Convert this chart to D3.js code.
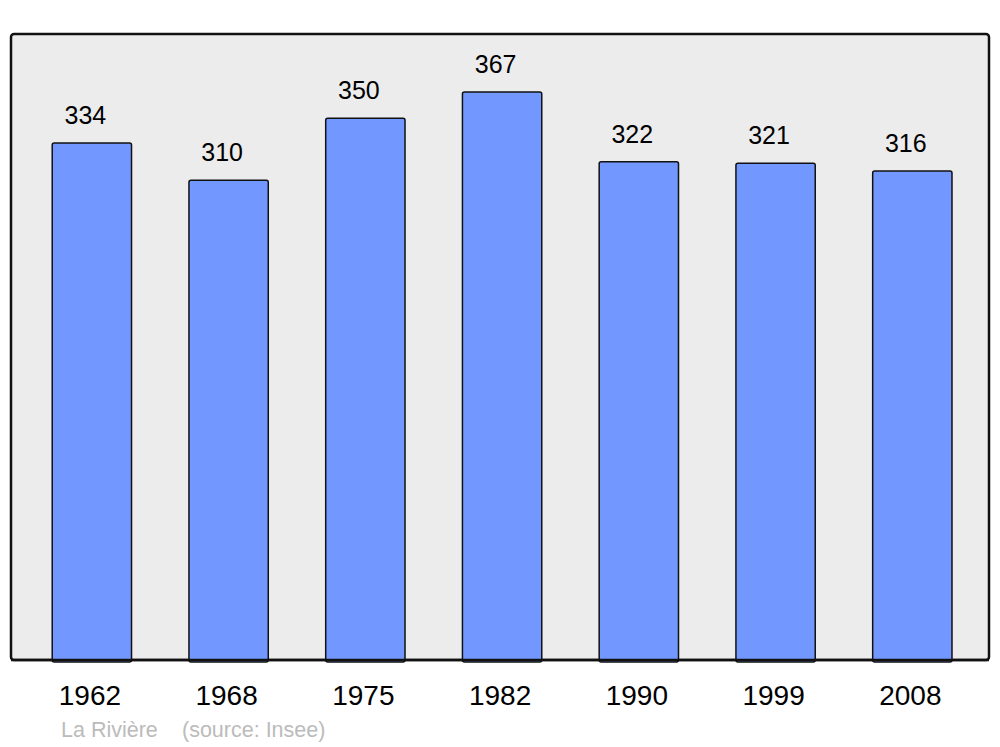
<!DOCTYPE html>
<html><head><meta charset="utf-8">
<script src="https://cdn.jsdelivr.net/npm/d3@7"></script>
<style>body{margin:0;background:#fff}</style>
</head><body>
<svg id="c" width="1000" height="747"></svg>
<script>
const years = ["1962","1968","1975","1982","1990","1999","2008"];
const population = [334,310,350,367,322,321,316];
const sourceParts = ["La Rivière", "(source: Insee)"];

const svg = d3.select("#c");
const font = "'Liberation Sans', Arial, sans-serif";
const panel = {x0: 11, x1: 989, y0: 34, y1: 660};

svg.append("rect")
  .attr("x", panel.x0).attr("y", panel.y0)
  .attr("width", panel.x1 - panel.x0).attr("height", panel.y1 - panel.y0)
  .attr("rx", 3).attr("fill", "#ececec").attr("stroke", "#111").attr("stroke-width", 2.5);

const x = d3.scaleBand().domain(years).range([23.5, 980.7]).paddingInner(0.42).paddingOuter(0.21);
const y = d3.scaleLinear().domain([0, 367]).range([panel.y1, 92]);

const data = years.map((yr, i) => ({yr, v: population[i]}));

svg.selectAll("rect.bar").data(data).join("rect")
  .attr("class", "bar")
  .attr("x", d => x(d.yr)).attr("y", d => y(d.v))
  .attr("width", x.bandwidth()).attr("height", d => y(0) - y(d.v) + 2)
  .attr("rx", 2)
  .attr("fill", "#7298ff").attr("stroke", "#111").attr("stroke-width", 1.5);

svg.append("line").attr("x1", panel.x0).attr("x2", panel.x1)
  .attr("y1", panel.y1).attr("y2", panel.y1).attr("stroke", "#111").attr("stroke-width", 2.5);

svg.selectAll("text.val").data(data).join("text")
  .attr("class", "val")
  .attr("x", d => x(d.yr) + x.bandwidth()/2 - 6.5)
  .attr("y", d => y(d.v) - 19)
  .attr("text-anchor", "middle")
  .attr("font-family", font).attr("font-size", 25).attr("fill", "#000")
  .text(d => d.v);

const xAxis = d3.axisBottom(x).tickSize(0).tickPadding(0);
const ax = svg.append("g").attr("transform", `translate(-2,${panel.y1})`).call(xAxis);
ax.select(".domain").remove();
ax.selectAll("text").attr("font-family", font).attr("font-size", 28).attr("fill", "#000")
  .attr("dy", null).attr("y", 45);

svg.selectAll("text.src").data(sourceParts).join("text")
  .attr("class", "src")
  .attr("x", (d, i) => i === 0 ? 61 : 182)
  .attr("y", 737)
  .attr("font-family", font).attr("font-size", 21.5).attr("fill", "#bbb")
  .text(d => d);
</script>
</body></html>
